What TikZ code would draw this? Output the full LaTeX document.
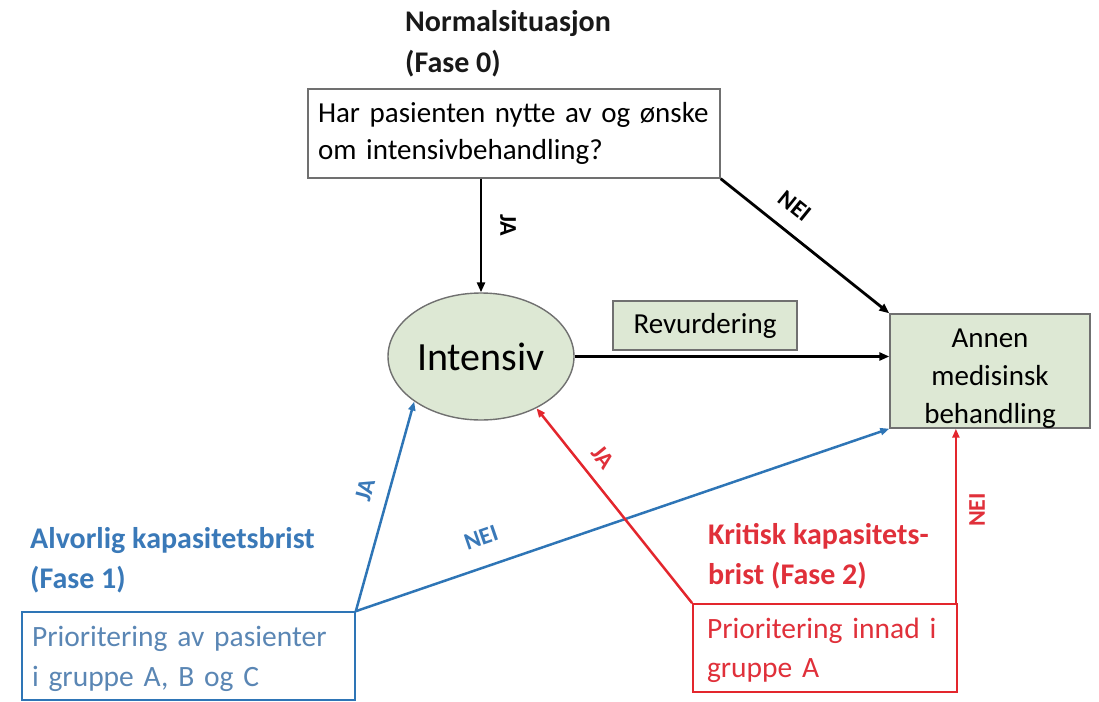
\documentclass[tikz,border=0pt]{standalone}
\usepackage{fontspec}
\setmainfont{Carlito}
\usetikzlibrary{arrows.meta,shapes.geometric}
\definecolor{gfill}{HTML}{DDE8D4}
\definecolor{gborder}{HTML}{707070}
\definecolor{bline}{HTML}{2E75B6}
\definecolor{btext}{HTML}{3A79B8}
\definecolor{bbox}{HTML}{5A86B4}
\definecolor{rline}{HTML}{E3262D}
\definecolor{rtext}{HTML}{E0303A}
\tikzset{
  boldt/.style={font=\fontsize{30}{40}\selectfont\bfseries, inner sep=0pt, align=left},
  lbl/.style={font=\fontsize{24}{26}\selectfont\bfseries, inner sep=0pt},
  gbox/.style={draw=gborder, line width=1.4pt, fill=gfill, font=\fontsize{29}{38}\selectfont},
  wbox/.style={draw=gborder, line width=1.4pt, fill=white, font=\fontsize{29}{37}\selectfont},
  arr/.style={line width=2.8pt, -{Triangle[length=10pt,width=8pt]}},
  carr/.style={line width=2.5pt, -{Triangle[length=9pt,width=7pt]}},
}
\begin{document}
\begin{tikzpicture}[x=1pt,y=-1pt]
\useasboundingbox (0,0) rectangle (1099,701);
% titles
\node[boldt, anchor=base west, text=black!90] (t0) at (405,72) {Normalsituasjon\\(Fase 0)};
\node[boldt, anchor=base west, text=btext] (t1) at (30,588) {Alvorlig kapasitetsbrist\\(Fase 1)};
\node[boldt, anchor=base west, text=rtext] (t2) at (708,584) {Kritisk kapasitets-\\brist (Fase 2)};
% boxes
\node[wbox, minimum width=412pt, minimum height=89pt, text width=392pt, align=left, inner sep=0pt] (q) at (514,133.5)
  {Har pasienten nytte av og ønske\\om intensivbehandling?};
\node[ellipse, gbox, minimum width=186pt, minimum height=127pt, inner sep=0pt, font=\fontsize{40}{44}\selectfont] (int) at (481,356.5) {Intensiv};
\node[gbox, minimum width=184pt, minimum height=49pt, inner sep=0pt] (rev) at (705,325.5) {Revurdering};
\node[gbox, minimum width=200pt, minimum height=114pt, align=center, inner sep=0pt] (ann) at (990,371) {\rule{0pt}{33pt}Annen\\medisinsk\\behandling};
\node[draw=bline, line width=1.6pt, minimum width=333pt, minimum height=88pt, text width=313pt, align=left, inner sep=0pt, text=bbox, font=\fontsize{29.5}{40}\selectfont] (b1) at (188.5,656) {\rule{0pt}{26pt}Prioritering av pasienter\\i gruppe A, B og C};
\node[draw=rline, line width=1.8pt, fill=white, minimum width=264pt, minimum height=88pt, text width=236pt, align=left, inner sep=0pt, text=rtext, font=\fontsize{29.5}{39}\selectfont] (r1) at (825,648) {\rule{0pt}{26pt}\mbox{Prioritering innad i}\\gruppe A};
% black connectors
\draw[arr] (int.north |- q.south) -- (int.north);
\draw[arr] (q.south east) -- (ann.north west);
\draw[arr] (int.east) -- (ann.west |- int.east);
% blue connectors
\draw[carr, bline] (b1.north east) -- (int.214);
\draw[carr, bline] (b1.north east) -- (ann.south west);
% red connectors
\draw[carr, rline] (r1.north west) -- (int.317);
\coordinate (rn) at ([xshift=-2pt]r1.north east);
\draw[carr, rline] (rn) -- (rn |- ann.south);
% labels
\node[lbl, rotate=-90] (lja0) at (508,225) {JA};
\node[lbl, rotate=-39] (lnei0) at (795,206) {NEI};
\node[lbl, rotate=75, text=btext] (lja1) at (365,490) {JA};
\node[lbl, rotate=19, text=btext] (lnei1) at (481,538) {NEI};
\node[lbl, rotate=-51, text=rtext] (lja2) at (603,457) {JA};
\node[lbl, rotate=90, text=rtext] (lnei2) at (977,510) {NEI};
\end{tikzpicture}
\end{document}
